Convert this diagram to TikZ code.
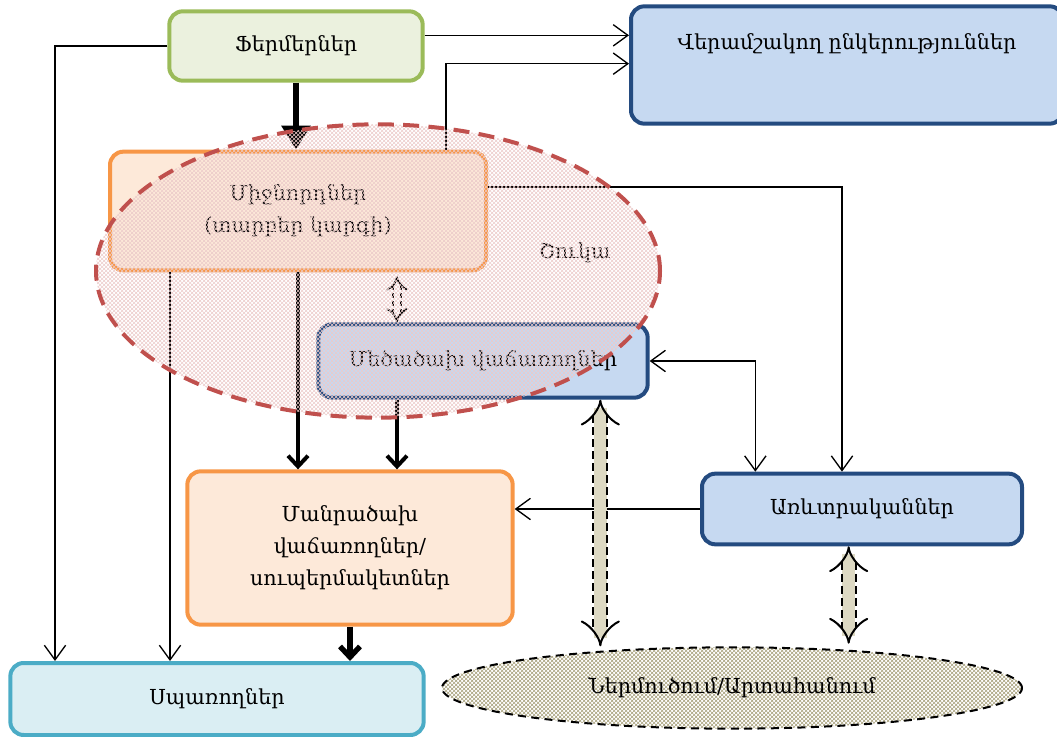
\documentclass[tikz,border=0pt]{standalone}
\usepackage{fontspec}
\setmainfont{DejaVu Serif}
\usetikzlibrary{arrows.meta,patterns,shapes.geometric}
\definecolor{greenline}{HTML}{9BBB59}
\definecolor{greenfill}{HTML}{EBF1DE}
\definecolor{blueline}{HTML}{244B80}
\definecolor{bluefill}{HTML}{C6D9F1}
\definecolor{orangeline}{HTML}{F79646}
\definecolor{orangefill}{HTML}{FDE9D9}
\definecolor{tealline}{HTML}{4BACC6}
\definecolor{tealfill}{HTML}{DAEEF3}
\definecolor{marketred}{HTML}{C0504D}
\definecolor{beigefill}{HTML}{DDD9C3}
\definecolor{olivehatch}{HTML}{A69F7A}
\begin{document}
\begin{tikzpicture}[x=0.75pt, y=-0.75pt,
	font=\fontsize{15.5}{24}\selectfont,
	box/.style={rectangle, rounded corners=10pt, line width=3pt, align=center, inner sep=2pt},
	greenbox/.style={box, draw=greenline, fill=greenfill},
	bluebox/.style={box, draw=blueline, fill=bluefill},
	orangebox/.style={box, draw=orangeline, fill=orangefill},
	tealbox/.style={box, draw=tealline, fill=tealfill},
	thinarrow/.style={line width=1pt, -{Straight Barb[length=11pt,width=16pt]}},
	thickarrow/.style={line width=3pt, -{Straight Barb[length=8pt,width=15pt]}},
	blockarrow/.style={double=beigefill, double distance=9pt, line width=1.5pt,
		dash pattern=on 6pt off 3pt, {Implies}-{Implies},
		preaction={draw=beigefill, line width=10pt, arrows=-, shorten <=6pt, shorten >=6pt}},
	]
	\useasboundingbox (0,0) rectangle (1057,737);
	
	% Boxes
	\node[greenbox, minimum width=190pt, minimum height=52pt] (farm) at (296,46) {Ֆերմերներ};
	\node[bluebox, minimum width=324pt, minimum height=88pt,
		label={[anchor=north, yshift=-18pt]north:Վերամշակող ընկերություններ}] (proc) at (847,65) {};
	\node[orangebox, minimum width=282pt, minimum height=89pt] (inter) at (298,211) {Միջնորդներ\\(տարբեր կարգի)};
	\node[bluebox, minimum width=247pt, minimum height=55pt] (whole) at (483,361) {Մեծածախ վաճառողներ};
	\node[orangebox, minimum width=244pt, minimum height=115pt] (retail) at (350,548) {Մանրածախ\\վաճառողներ/\\սուպերմակետներ};
	\node[bluebox, minimum width=240pt, minimum height=53pt] (trad) at (862,509) {Առևտրականներ};
	\node[tealbox, minimum width=310pt, minimum height=54pt] (cons) at (217,699) {Սպառողներ};
	\node[ellipse, draw, line width=1.5pt, dash pattern=on 6pt off 4pt, pattern=crosshatch, pattern color=olivehatch,
		minimum width=435pt, minimum height=61pt] (impex) at (732,688) {Ներմուծում/Արտահանում};
	
	% Thin connectors
	\draw[thinarrow] (farm.west) -| ([xshift=35pt]cons.north west);
	\draw[thinarrow] ([yshift=8pt]farm.east) -- ([yshift=8pt]farm.east -| proc.west);
	\draw[thinarrow] ([xshift=111pt]inter.north) |- ([yshift=1pt]proc.west);
	\draw[thinarrow] ([yshift=18pt]inter.east) -| ([xshift=-15pt]trad.north);
	\draw[thinarrow] ([xshift=-96pt]inter.south) -- ([xshift=-96pt]inter.south |- cons.north);
	\draw[thinarrow, {Straight Barb[length=11pt,width=16pt]}-{Straight Barb[length=11pt,width=16pt]}]
		(whole.east) -| ([xshift=-80pt]trad.north);
	\draw[thinarrow] (trad.west) -- (trad.west -| retail.east);
	
	% Thick arrows
	\draw[line width=4.5pt, -{Triangle[length=18pt,width=21pt]}] (farm.south) -- (farm.south |- inter.north);
	\draw[thickarrow] (inter.south) -- (inter.south |- retail.north);
	\draw[thickarrow] ([xshift=-64.5pt]whole.south) -- ([xshift=-64.5pt]whole.south |- retail.north);
	\draw[thickarrow, line width=4pt] (retail.south) -- (retail.south |- cons.north);
	\draw[double, double distance=4pt, line width=1.4pt, dash pattern=on 4pt off 2pt, {Implies}-{Implies}]
		([xshift=-64.5pt]whole.north) -- ([xshift=-64.5pt, yshift=-3pt]whole.north |- inter.south);
	
	% Market
	\node (market) at (575,253) {Շուկա};
	\draw[marketred, line width=3pt, dash pattern=on 12pt off 7pt, pattern=crosshatch, pattern color=marketred!30]
		(378,271) ellipse [x radius=211.5pt, y radius=110pt];
	
	% Import and export links
	\draw[blockarrow] ([xshift=88pt]whole.south) -- ([xshift=88pt]whole.south |- impex.north);
	\draw[blockarrow] ([xshift=-10pt]trad.south) -- ([xshift=-10pt, yshift=2pt]trad.south |- impex.north);
	
\end{tikzpicture}
\end{document}
